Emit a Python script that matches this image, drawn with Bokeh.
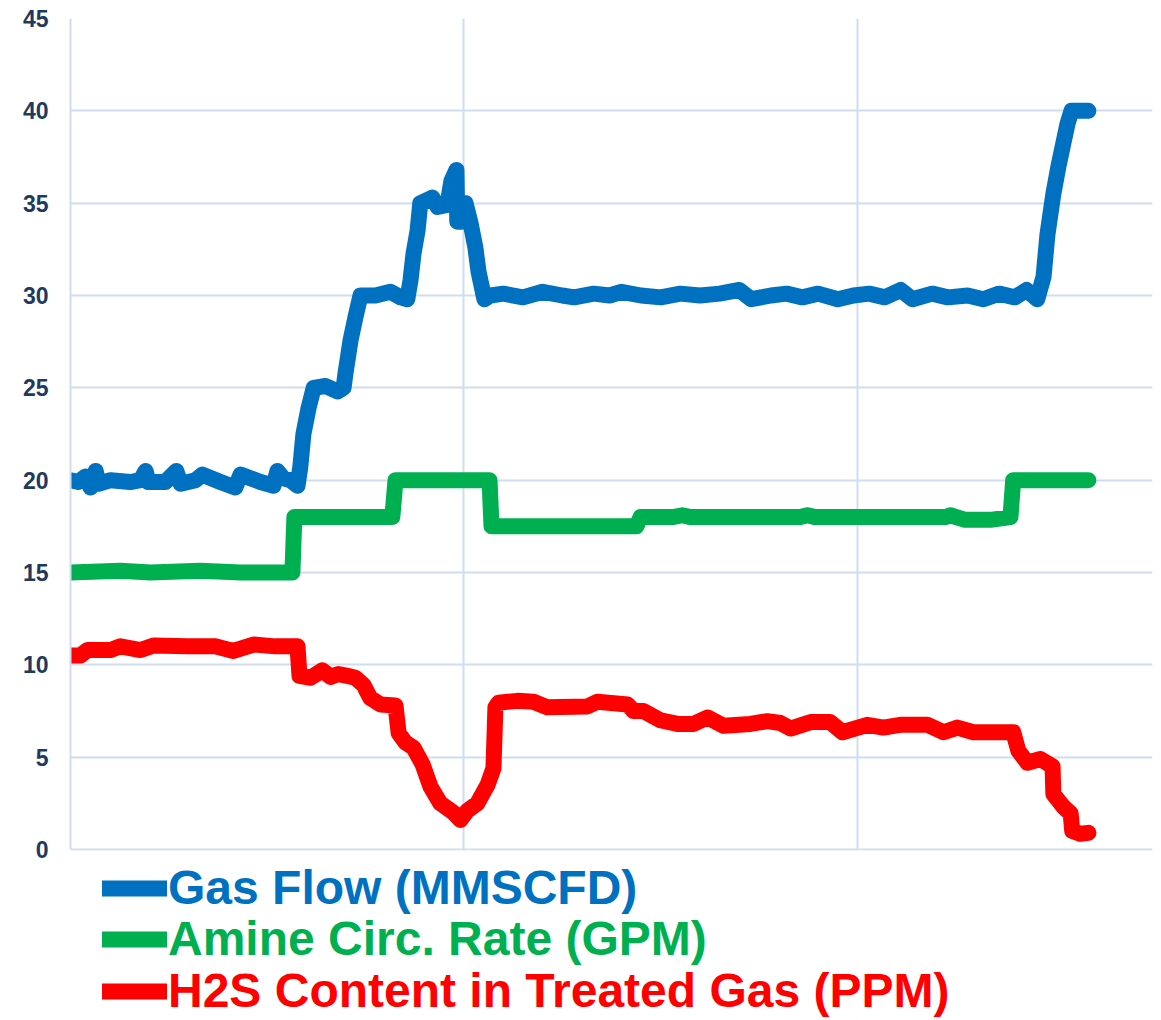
from bokeh.plotting import figure
from bokeh.models import Range1d, FixedTicker, Legend, LegendItem, BoxAnnotation
from bokeh.embed import file_html
from bokeh.resources import INLINE

# ---- data (x = sample index) ----
gas_x = [0, 2.0, 3.8, 5.1, 6.4, 7.1, 10.2, 15.2, 17.8, 19.1, 19.8, 24.1, 26.9, 28.0, 31.8, 33.5,
         38.1, 41.9, 43.2, 48.3, 51.6, 52.6, 54.1, 55.9, 57.7, 58.4, 59.2, 60.5, 61.8, 64.8, 67.9,
         69.4, 69.9, 71.2, 72.4, 73.7, 77.5, 81.3, 83.9, 85.6, 86.4, 87.2, 88.2, 88.9, 92.0, 93.3,
         95.8, 96.8, 98.1, 98.3, 99.4, 100.4, 101.7, 102.9, 103.7, 104.7, 105.2, 106.7, 110, 115,
         120, 125, 128, 133, 137, 140, 145, 150, 155, 160, 165, 170, 173, 178, 182, 186, 190, 195,
         199, 203, 207, 211, 214, 219, 223, 228, 232, 236, 240, 243, 245.7, 247.3, 248.3, 249.8,
         251.1, 252.1, 253.4, 254.4, 258.7]
gas_flow = [20.0, 19.9, 20.2, 19.6, 20.5, 19.8, 20.0, 19.9, 20.0, 20.5, 19.9, 19.9, 20.5, 19.8, 20.0,
            20.3, 19.9, 19.6, 20.3, 19.9, 19.7, 20.5, 20.1, 20.0, 19.7, 20.7, 22.5, 23.9, 25.0, 25.1,
            24.8, 25.0, 25.8, 27.6, 28.8, 30.0, 30.0, 30.2, 29.9, 29.8, 30.8, 32.3, 33.5, 35.0, 35.3,
            34.8, 34.9, 36.2, 36.8, 34.0, 34.0, 35.0, 33.9, 32.6, 31.3, 30.3, 29.8, 30.0, 30.1, 29.9,
            30.2, 30.0, 29.9, 30.1, 30.0, 30.2, 30.0, 29.9, 30.1, 30.0, 30.1, 30.3, 29.8, 30.0, 30.1,
            29.9, 30.1, 29.8, 30.0, 30.1, 29.9, 30.3, 29.8, 30.1, 29.9, 30.0, 29.8, 30.1, 29.9, 30.3,
            29.8, 31.0, 33.3, 35.5, 37.0, 38.0, 39.3, 40.0, 40.0]

amine_x = [0, 12.7, 20.3, 33.0, 43.2, 56.4, 56.9, 81.8, 82.6, 106.5, 107.0, 143.8, 144.9, 153.0,
           155.5, 157.6, 185.5, 187.3, 189.3, 222.4, 223.6, 227.4, 233.8, 238.9, 239.6, 258.7]
amine_rate = [15.0, 15.1, 15.0, 15.1, 15.0, 15.0, 18.0, 18.0, 20.0, 20.0, 17.5, 17.5, 18.0, 18.0,
              18.1, 18.0, 18.0, 18.1, 18.0, 18.0, 18.1, 17.85, 17.85, 18.0, 20.0, 20.0]

h2s_x = [0, 2.5, 4.3, 10.2, 12.7, 17.8, 21.1, 29.7, 36.8, 41.4, 46.5, 52.1, 57.7, 58.2, 61.0, 64.0,
         66.1, 68.1, 70.4, 72.4, 74.5, 76.2, 78.8, 82.6, 83.4, 85.1, 87.2, 89.5, 91.5, 94.0, 97.3,
         99.1, 100.9, 103.4, 106.0, 107.5, 108.0, 108.8, 113.6, 117.7, 121.2, 131.4, 133.9, 141.6,
         143.1, 145.6, 149.9, 154.3, 158.3, 161.9, 166.0, 172.8, 177.1, 180.4, 183.0, 188.1, 193.1,
         196.2, 202.5, 206.6, 210.9, 217.8, 221.9, 225.4, 229.5, 239.6, 240.9, 243.2, 246.5, 249.6,
         249.8, 252.4, 254.2, 254.6, 256.7, 258.7]
h2s_ppm = [10.5, 10.5, 10.8, 10.8, 11.0, 10.8, 11.05, 11.0, 11.0, 10.75, 11.1, 11.0, 11.0, 9.4, 9.3,
           9.7, 9.35, 9.5, 9.4, 9.3, 8.9, 8.2, 7.85, 7.8, 6.3, 5.8, 5.5, 4.6, 3.4, 2.5, 2.0, 1.6,
           2.1, 2.5, 3.5, 4.4, 7.7, 7.95, 8.05, 8.0, 7.7, 7.75, 8.0, 7.85, 7.5, 7.5, 7.0, 6.8, 6.8,
           7.15, 6.7, 6.8, 6.95, 6.85, 6.55, 6.9, 6.9, 6.35, 6.75, 6.6, 6.75, 6.75, 6.35, 6.6, 6.35,
           6.35, 5.35, 4.7, 4.9, 4.5, 3.0, 2.3, 1.95, 1.0, 0.85, 0.9]

series_labels = ["Gas Flow (MMSCFD)", "Amine Circ. Rate (GPM)", "H2S Content in Treated Gas (PPM)"]
y_ticks = [0, 5, 10, 15, 20, 25, 30, 35, 40, 45]
x_grid_ticks = [0, 100, 200]

# ---- styles ----
COLORS = ["#0070C0", "#00B050", "#FF0000"]
GRID = "#D0DDF0"
LABEL = "#1F3A5F"
FONT = "Liberation Sans"

# frame extends below 0 so the legend can sit under the data area
p = figure(frame_width=1082, frame_height=1000, output_backend="svg", toolbar_location=None,
           x_range=Range1d(0, 275), y_range=Range1d(-9.152, 45),
           min_border_left=70, min_border_right=9, min_border_top=18, min_border_bottom=2)
p.outline_line_color = None
p.background_fill_color = "white"
p.border_fill_color = "white"

p.xaxis.visible = False
p.xgrid.ticker = FixedTicker(ticks=x_grid_ticks)
p.ygrid.ticker = FixedTicker(ticks=y_ticks)
for g in (p.xgrid[0], p.ygrid[0]):
    g.grid_line_color = GRID
    g.grid_line_width = 2

# white mask hiding the vertical grid lines under the zero line (legend area)
p.add_layout(BoxAnnotation(top=-0.06, fill_color="white", fill_alpha=1.0,
                           line_color=None, level="underlay"))

ya = p.yaxis[0]
ya.ticker = FixedTicker(ticks=y_ticks)
ya.bounds = (0, 45)
ya.axis_line_color = GRID
ya.axis_line_width = 2
ya.major_tick_line_color = None
ya.minor_tick_line_color = None
ya.major_tick_out = 0
ya.major_tick_in = 0
ya.major_label_standoff = 22
ya.major_label_text_font = FONT
ya.major_label_text_font_style = "bold"
ya.major_label_text_font_size = "23px"
ya.major_label_text_color = LABEL

renderers = []
for xs, ys, c in ((gas_x, gas_flow, COLORS[0]), (amine_x, amine_rate, COLORS[1]),
                  (h2s_x, h2s_ppm, COLORS[2])):
    r = p.line(xs, ys, line_color=c, line_width=16, line_join="round", line_cap="round")
    renderers.append(r)

legend_offsets = [(32, 103), (32, 52), (32, 0)]
for r, lab, c, loc in zip(renderers, series_labels, COLORS, legend_offsets):
    leg = Legend(items=[LegendItem(label=lab, renderers=[r])], location=loc,
                 orientation="vertical", margin=0, padding=0, spacing=0,
                 glyph_width=65, glyph_height=30, label_standoff=1,
                 label_text_font=FONT, label_text_font_style="bold",
                 label_text_font_size="48px", label_text_color=c,
                 border_line_color=None, background_fill_alpha=0)
    p.add_layout(leg, "center")

open("out.html", "w").write(file_html(p, INLINE))
